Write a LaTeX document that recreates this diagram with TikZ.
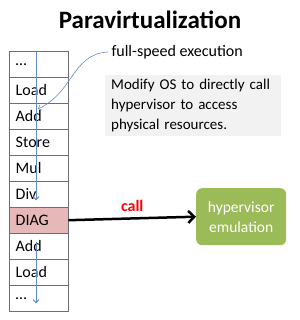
\documentclass[tikz,border=0pt]{standalone}
\usepackage{fontspec}
\setmainfont{Carlito}
\usetikzlibrary{positioning,arrows.meta}
\definecolor{cellline}{RGB}{110,110,110}
\definecolor{diagfill}{RGB}{230,185,184}
\definecolor{flowblue}{RGB}{100,140,200}
\definecolor{notegray}{RGB}{242,242,242}
\definecolor{hvgreen}{RGB}{155,187,89}
\definecolor{callred}{RGB}{255,0,0}

\begin{document}
\begin{tikzpicture}[x=1pt,y=-1pt,
  cell/.style={draw=cellline, minimum width=59pt, minimum height=26pt,
    inner sep=0pt, text width=46pt, align=left, anchor=north west,
    font=\fontsize{16}{18}\selectfont},
  flow/.style={draw=flowblue, line width=1pt, -{Straight Barb[length=3pt,width=6pt]}},
  note/.style={fill=notegray, text width=164pt, align=left, inner xsep=6pt,
    inner ysep=4pt, font=\fontsize{15}{20}\selectfont},
  hvbox/.style={fill=hvgreen, rounded corners=6pt, text=white, align=center,
    minimum width=90pt, minimum height=57pt, font=\fontsize{15.5}{20}\selectfont}]
  \useasboundingbox (0,0) rectangle (299,320);

  % title
  \node[font=\bfseries\fontsize{25}{28}\selectfont] (title) at (150,20) {Paravirtualization};

  % instruction stack
  \foreach \lbl/\cfill [count=\i] in {\ldots/white,Load/white,Add/white,Store/white,
      Mul/white,Div/white,DIAG/diagfill,Add/white,Load/white,\ldots/white}
    \node[cell, fill=\cfill] (c\i) at (9,{51+26*(\i-1)}) {\lbl};

  % execution flow
  \coordinate (f1) at ([xshift=27pt]c1.north west);
  \coordinate (f2) at ([xshift=27pt,yshift=7pt]c6.south west);
  \coordinate (f3) at ([xshift=27pt,yshift=-9pt]c8.north west);
  \coordinate (f4) at ([xshift=27pt,yshift=8pt]c10.south west);
  \draw[flow] (f1) -- (f2);
  \draw[flow] (f3) -- (f4);

  % notes
  \node[anchor=west, font=\fontsize{16}{18}\selectfont] (speed) at (108,52) {full-speed execution};
  \draw[flow, line width=0.6pt] (speed.west) .. controls (72,54) and (74,92) .. (38,109);
  \node[note, anchor=north west] (modify) at (105,75)
    {Modify OS to directly call\\hypervisor to access\\physical resources.};

  % hypervisor call
  \node[hvbox, anchor=north west] (hv) at (196,188) {hypervisor\\emulation};
  \draw[line width=2.5pt, -{Straight Barb[length=6pt,width=12pt]}] (c7.east) -- (hv.west)
    node[midway, above=2pt, text=callred, font=\bfseries\fontsize{16}{18}\selectfont] (calllbl) {call};
\end{tikzpicture}
\end{document}
